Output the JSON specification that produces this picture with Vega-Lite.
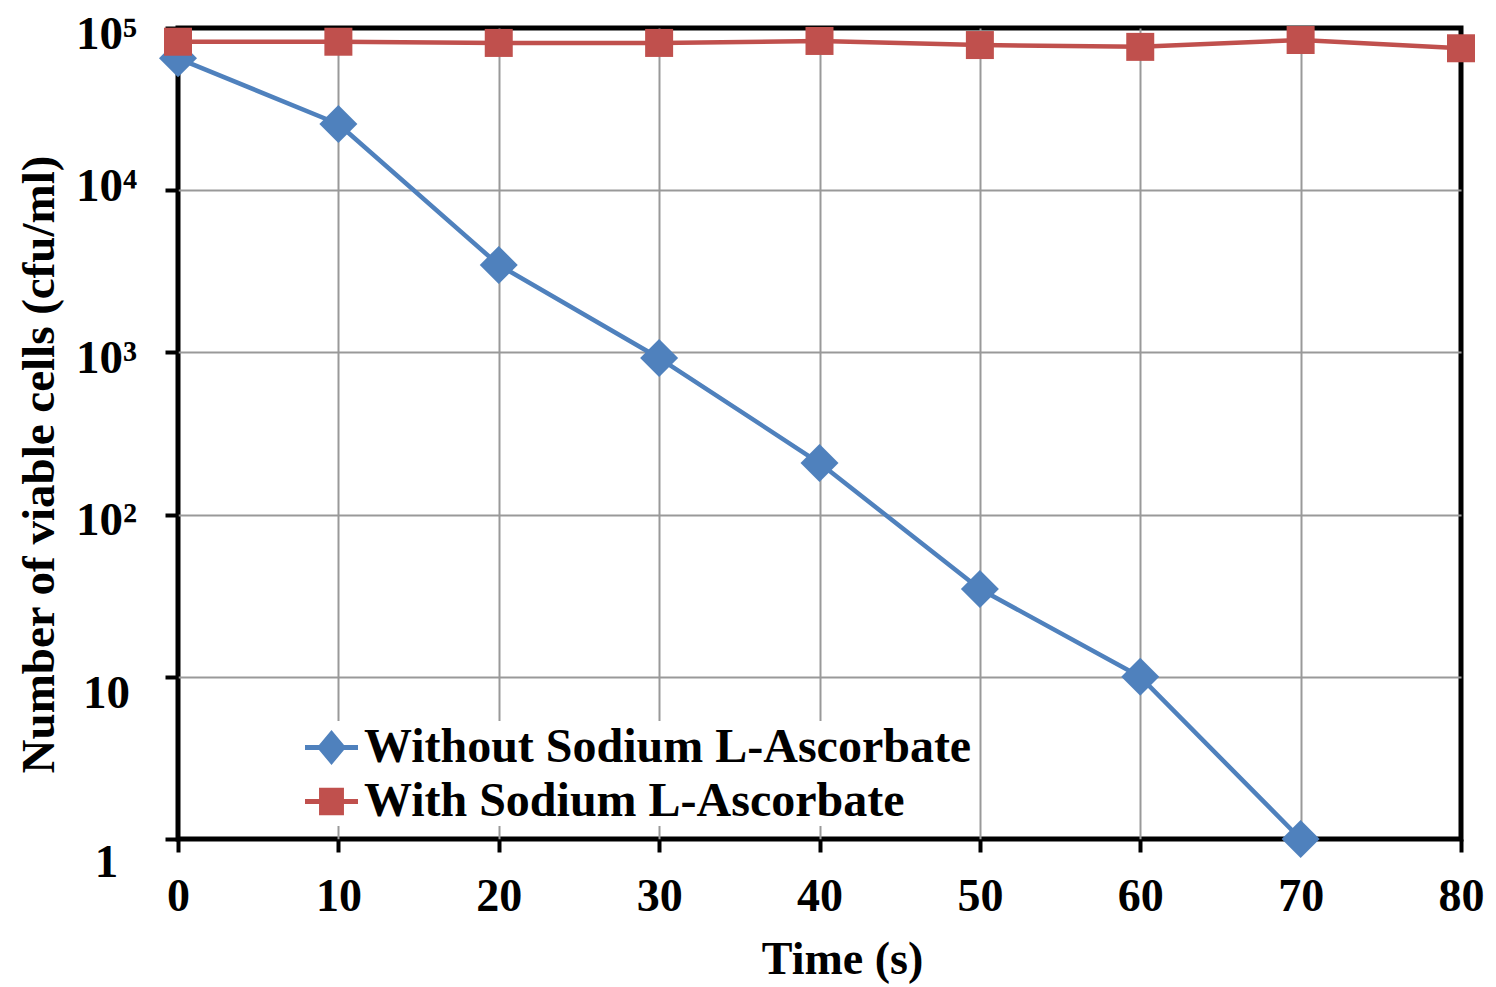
{
  "$schema": "https://vega.github.io/schema/vega-lite/v6.json",
  "width": 1283,
  "height": 811,
  "autosize": "none",
  "padding": {"left": 178, "top": 28, "right": 35, "bottom": 148},
  "background": "white",
  "config": {
    "view": {"stroke": "black", "strokeWidth": 5},
    "font": "Liberation Serif"
  },
  "data": {
    "values": [
      {"time": 0, "count": 65000, "series": "Without Sodium L-Ascorbate"},
      {"time": 10, "count": 25600, "series": "Without Sodium L-Ascorbate"},
      {"time": 20, "count": 3460, "series": "Without Sodium L-Ascorbate"},
      {"time": 30, "count": 923, "series": "Without Sodium L-Ascorbate"},
      {"time": 40, "count": 208, "series": "Without Sodium L-Ascorbate"},
      {"time": 50, "count": 34.8, "series": "Without Sodium L-Ascorbate"},
      {"time": 60, "count": 10, "series": "Without Sodium L-Ascorbate"},
      {"time": 70, "count": 1, "series": "Without Sodium L-Ascorbate"},
      {"time": 0, "count": 82300, "series": "With Sodium L-Ascorbate"},
      {"time": 10, "count": 82300, "series": "With Sodium L-Ascorbate"},
      {"time": 20, "count": 80900, "series": "With Sodium L-Ascorbate"},
      {"time": 30, "count": 80900, "series": "With Sodium L-Ascorbate"},
      {"time": 40, "count": 83200, "series": "With Sodium L-Ascorbate"},
      {"time": 50, "count": 78500, "series": "With Sodium L-Ascorbate"},
      {"time": 60, "count": 76500, "series": "With Sodium L-Ascorbate"},
      {"time": 70, "count": 84300, "series": "With Sodium L-Ascorbate"},
      {"time": 80, "count": 75000, "series": "With Sodium L-Ascorbate"}
    ]
  },
  "encoding": {
    "x": {
      "field": "time",
      "type": "quantitative",
      "scale": {"domain": [0, 80], "nice": false},
      "axis": {
        "values": [0, 10, 20, 30, 40, 50, 60, 70, 80],
        "title": "Time (s)",
        "grid": true,
        "gridColor": {"condition": {"test": "datum.value == 0 || datum.value == 80", "value": "transparent"}, "value": "#999999"},
        "gridWidth": 2,
        "domain": false,
        "ticks": true,
        "tickSize": 13,
        "tickWidth": 4,
        "tickColor": "black",
        "labelFont": "Liberation Serif",
        "labelFontSize": 46,
        "labelFontWeight": "bold",
        "labelColor": "black",
        "labelPadding": 22,
        "labelFlush": false,
        "labelOverlap": false,
        "titleFont": "Liberation Serif",
        "titleFontSize": 46,
        "titleFontWeight": "bold",
        "titleColor": "black",
        "titleX": 664,
        "titleY": 134,
        "titleAlign": "center",
        "titleBaseline": "alphabetic"
      }
    },
    "y": {
      "field": "count",
      "type": "quantitative",
      "scale": {"type": "log", "domain": [1, 100000], "nice": false},
      "axis": {
        "values": [1, 10, 100, 1000, 10000, 100000],
        "labelExpr": "datum.value == 1 ? '1' : datum.value == 10 ? '10' : datum.value == 100 ? '10²' : datum.value == 1000 ? '10³' : datum.value == 10000 ? '10⁴' : '10⁵'",
        "title": "Number of viable cells (cfu/ml)",
        "grid": true,
        "gridColor": {"condition": {"test": "datum.value == 1 || datum.value == 100000", "value": "transparent"}, "value": "#999999"},
        "gridWidth": 2,
        "domain": false,
        "ticks": true,
        "tickSize": 13,
        "tickWidth": 4,
        "tickColor": "black",
        "labelFont": "Liberation Serif",
        "labelFontSize": 47,
        "labelFontWeight": "bold",
        "labelColor": "black",
        "labelAlign": "center",
        "labelBaseline": "middle",
        "labelPadding": 59,
        "labelFlush": false,
        "labelOverlap": false,
        "labelOffset": {
          "condition": [
            {"test": "datum.value == 1", "value": 23},
            {"test": "datum.value == 10", "value": 17},
            {"test": "datum.value == 10000", "value": -4}
          ],
          "value": 6
        },
        "titleFont": "Liberation Serif",
        "titleFontSize": 47,
        "titleFontWeight": "bold",
        "titleColor": "black",
        "titleAngle": 270,
        "titleX": -125,
        "titleY": 436,
        "titleAlign": "center",
        "titleBaseline": "alphabetic"
      }
    },
    "color": {
      "field": "series",
      "type": "nominal",
      "scale": {
        "domain": ["Without Sodium L-Ascorbate", "With Sodium L-Ascorbate"],
        "range": ["#4F81BD", "#C0504D"]
      },
      "legend": {
        "title": null,
        "orient": "none",
        "legendX": 127,
        "legendY": 693,
        "padding": 0,
        "fillColor": "white",
        "labelFont": "Liberation Serif",
        "labelFontSize": 48,
        "labelFontWeight": "bold",
        "labelColor": "black",
        "labelOffset": 6,
        "labelLimit": 0,
        "symbolSize": 2809,
        "symbolStrokeWidth": 0,
        "symbolOpacity": 1,
        "rowPadding": 3,
        "encode": {
          "symbols": {
            "update": {
              "shape": {"signal": "datum.index == 0 ? 'M-1,-0.095H1V0.095H-1Z M0,-0.66L0.55,0L0,0.66L-0.55,0Z' : 'M-1,-0.095H1V0.095H-1Z M-0.47,-0.52H0.47V0.52H-0.47Z'"},
              "fill": {"scale": "color", "field": "value"},
              "strokeWidth": {"value": 0},
              "opacity": {"value": 1}
            }
          }
        }
      }
    }
  },
  "layer": [
    {
      "mark": {"type": "line", "strokeWidth": 4.5, "strokeCap": "round", "strokeJoin": "round"}
    },
    {
      "transform": [{"filter": "datum.series == 'Without Sodium L-Ascorbate'"}],
      "mark": {"type": "point", "filled": true, "opacity": 1, "shape": "diamond", "size": 1444}
    },
    {
      "transform": [{"filter": "datum.series == 'With Sodium L-Ascorbate'"}],
      "mark": {"type": "point", "filled": true, "opacity": 1, "shape": "square", "size": 784}
    }
  ]
}
